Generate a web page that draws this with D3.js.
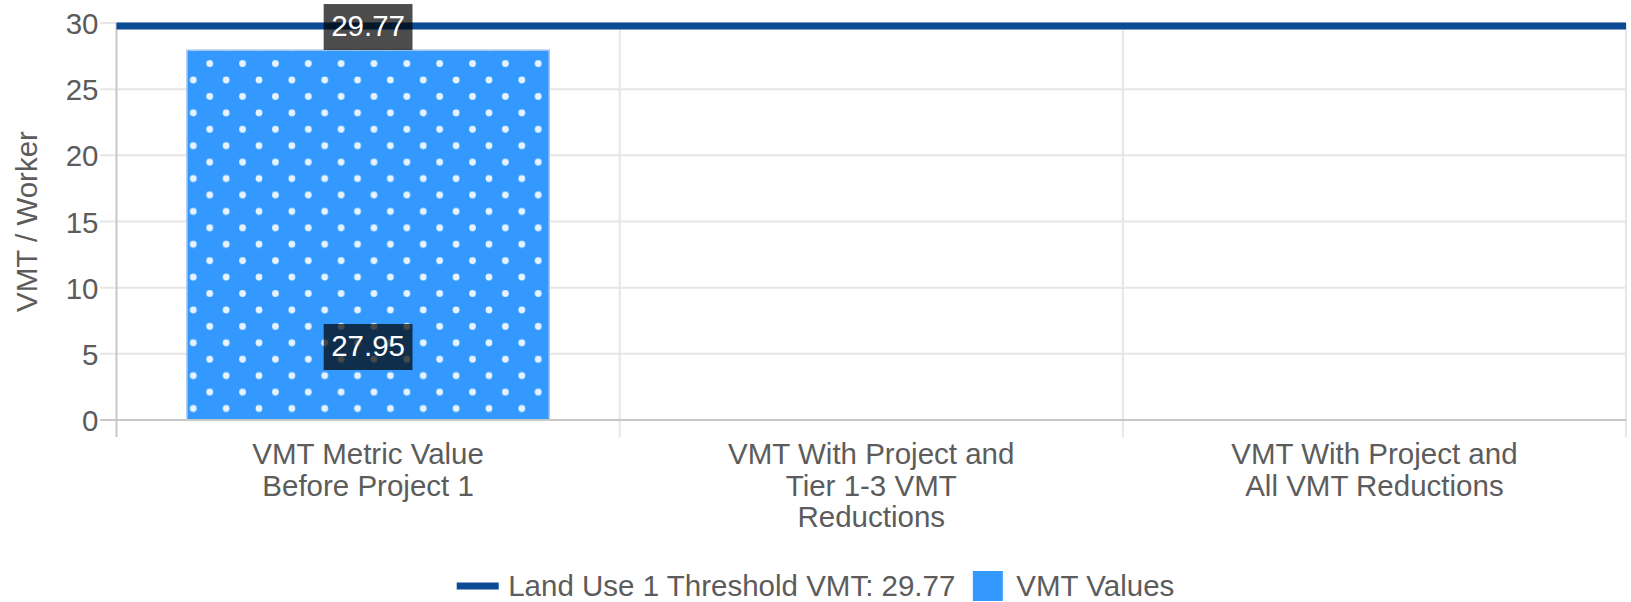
<!DOCTYPE html>
<html>
<head>
<meta charset="utf-8">
<script src="https://cdn.jsdelivr.net/npm/d3@7"></script>
<style>
  html, body { margin: 0; padding: 0; background: #fff; }
  svg { display: block; font-family: "Liberation Sans", Arial, sans-serif; }
</style>
</head>
<body>
<svg id="chart" width="1631" height="602"></svg>
<script>
// Chart data
const categories = [
  "VMT Metric Value Before Project 1",
  "VMT With Project and Tier 1-3 VMT Reductions",
  "VMT With Project and All VMT Reductions"
];
const vmtValues = [27.95, null, null];
const thresholdValue = 29.77;
const thresholdLabel = "Land Use 1 Threshold VMT: 29.77";
const barSeriesLabel = "VMT Values";
const yTicks = [0, 5, 10, 15, 20, 25, 30];
const yTitle = "VMT / Worker";

// Layout
const W = 1631, H = 602;
const plot = { left: 116.5, right: 1626, top: 23, bottom: 420 };
const FONT = 29.5;
const textColor = "#5c5c5c";
const barColor = "#3399ff";
const lineColor = "#0b4a95";

const svg = d3.select("#chart");

const x = d3.scaleBand().domain(categories).range([plot.left, plot.right]).paddingInner(0).paddingOuter(0);
const y = d3.scaleLinear().domain([0, 30]).range([plot.bottom, plot.top]);

// Dot pattern for the bars
const P = 32.85;
const defs = svg.append("defs");
const pat = defs.append("pattern")
  .attr("id", "dots")
  .attr("patternUnits", "userSpaceOnUse")
  .attr("width", P).attr("height", P)
  .attr("x", 193.3).attr("y", 80);
pat.append("rect").attr("width", P).attr("height", P).attr("fill", barColor);
[[0, 0], [P, 0], [0, P], [P, P], [P / 2, P / 2]].forEach(([cx, cy]) => {
  pat.append("circle").attr("cx", cx).attr("cy", cy).attr("r", 3.4)
    .attr("fill", "#ffffff").attr("fill-opacity", 0.88);
});

// Horizontal gridlines (extend left of the plot as ticks)
const grid = svg.append("g");
grid.selectAll("line.h").data(yTicks.filter(t => t !== 0)).join("line")
  .attr("x1", plot.left - 16.5).attr("x2", plot.right)
  .attr("y1", d => y(d)).attr("y2", d => y(d))
  .attr("stroke", "#e6e6e6").attr("stroke-width", 2);

// Vertical category separators
const seps = categories.map(c => x(c)).concat([plot.right]);
grid.selectAll("line.v").data(seps).join("line")
  .attr("x1", d => d).attr("x2", d => d)
  .attr("y1", plot.top).attr("y2", plot.bottom + 17)
  .attr("stroke", (d, i) => i === 0 ? "#c8c8c8" : "#e6e6e6")
  .attr("stroke-width", 2);

// Y axis labels via d3 axis
const yAxis = svg.append("g")
  .attr("transform", `translate(${plot.left - 18},0)`)
  .call(d3.axisLeft(y).tickValues(yTicks).tickSize(0).tickPadding(0).tickFormat(d3.format("d")));
yAxis.select(".domain").remove();
yAxis.selectAll("text")
  .attr("font-size", FONT).attr("fill", textColor)
  .attr("font-family", "Liberation Sans, Arial, sans-serif")
  .attr("dy", "0.36em");

// Y axis title
svg.append("text")
  .attr("transform", `translate(${37},${(plot.top + plot.bottom) / 2}) rotate(-90)`)
  .attr("text-anchor", "middle")
  .attr("font-size", FONT).attr("fill", textColor)
  .text(yTitle);

// Bars
const barFrac = 0.72;
const bars = categories.map((c, i) => ({ c, v: vmtValues[i] })).filter(d => d.v != null);
svg.append("g").selectAll("rect").data(bars).join("rect")
  .attr("x", d => x(d.c) + x.bandwidth() * (1 - barFrac) / 2)
  .attr("width", x.bandwidth() * barFrac)
  .attr("y", d => y(d.v))
  .attr("height", d => y(0) - y(d.v))
  .attr("fill", "url(#dots)")
  .attr("stroke", "#a9c9ea").attr("stroke-width", 1.5);

// Baseline
svg.append("line")
  .attr("x1", plot.left - 16.5).attr("x2", plot.right)
  .attr("y1", y(0)).attr("y2", y(0))
  .attr("stroke", "#c8c8c8").attr("stroke-width", 2);

// Threshold line
svg.append("line")
  .attr("x1", plot.left).attr("x2", plot.right)
  .attr("y1", y(thresholdValue)).attr("y2", y(thresholdValue))
  .attr("stroke", lineColor).attr("stroke-width", 7);

// Value annotations
function annotation(cx, cy, label) {
  const g = svg.append("g");
  const r = g.append("rect").attr("fill", "#000").attr("fill-opacity", 0.7);
  const t = g.append("text")
    .attr("x", cx).attr("y", cy).attr("dy", "0.36em")
    .attr("text-anchor", "middle")
    .attr("font-size", FONT).attr("fill", "#fff")
    .text(label);
  const bb = t.node().getBBox();
  const padX = 7.5, h = 46;
  r.attr("x", bb.x - padX).attr("width", bb.width + 2 * padX)
   .attr("y", cy - h / 2 + 2).attr("height", h);
}
const firstCenter = x(categories[0]) + x.bandwidth() / 2;
annotation(firstCenter, y(thresholdValue) - 1, thresholdValue.toFixed(2));
bars.forEach(d => {
  annotation(x(d.c) + x.bandwidth() / 2, y(0) - 75, d.v.toFixed(2));
});

// Category labels with word wrap
const maxLabelWidth = 300;
const xl = svg.append("g");
categories.forEach(c => {
  const cx = x(c) + x.bandwidth() / 2;
  const t = xl.append("text").attr("text-anchor", "middle")
    .attr("font-size", FONT).attr("fill", textColor);
  const words = c.split(" ");
  let lines = [], cur = [];
  const probe = xl.append("text").attr("font-size", FONT);
  words.forEach(w => {
    const trial = cur.concat([w]).join(" ");
    probe.text(trial);
    if (probe.node().getComputedTextLength() > maxLabelWidth && cur.length) {
      lines.push(cur.join(" "));
      cur = [w];
    } else cur.push(w);
  });
  if (cur.length) lines.push(cur.join(" "));
  probe.remove();
  lines.forEach((ln, i) => {
    t.append("tspan").attr("x", cx).attr("y", 464 + i * 31.5).text(ln);
  });
});

// Legend
const lg = svg.append("g");
lg.append("line").attr("x1", 0).attr("x2", 42).attr("y1", 0).attr("y2", 0)
  .attr("stroke", lineColor).attr("stroke-width", 7);
const lt1 = lg.append("text").attr("x", 51.5).attr("y", 0).attr("dy", "0.34em")
  .attr("font-size", FONT).attr("fill", textColor).text(thresholdLabel);
const after1 = 51.5 + lt1.node().getComputedTextLength() + 17.5;
lg.append("rect").attr("x", after1).attr("y", -15).attr("width", 30).attr("height", 30)
  .attr("fill", barColor);
const lt2 = lg.append("text").attr("x", after1 + 43.5).attr("y", 0).attr("dy", "0.34em")
  .attr("font-size", FONT).attr("fill", textColor).text(barSeriesLabel);
const totalW = after1 + 43.5 + lt2.node().getComputedTextLength();
lg.attr("transform", `translate(${(W - totalW) / 2},586)`);
</script>
</body>
</html>
